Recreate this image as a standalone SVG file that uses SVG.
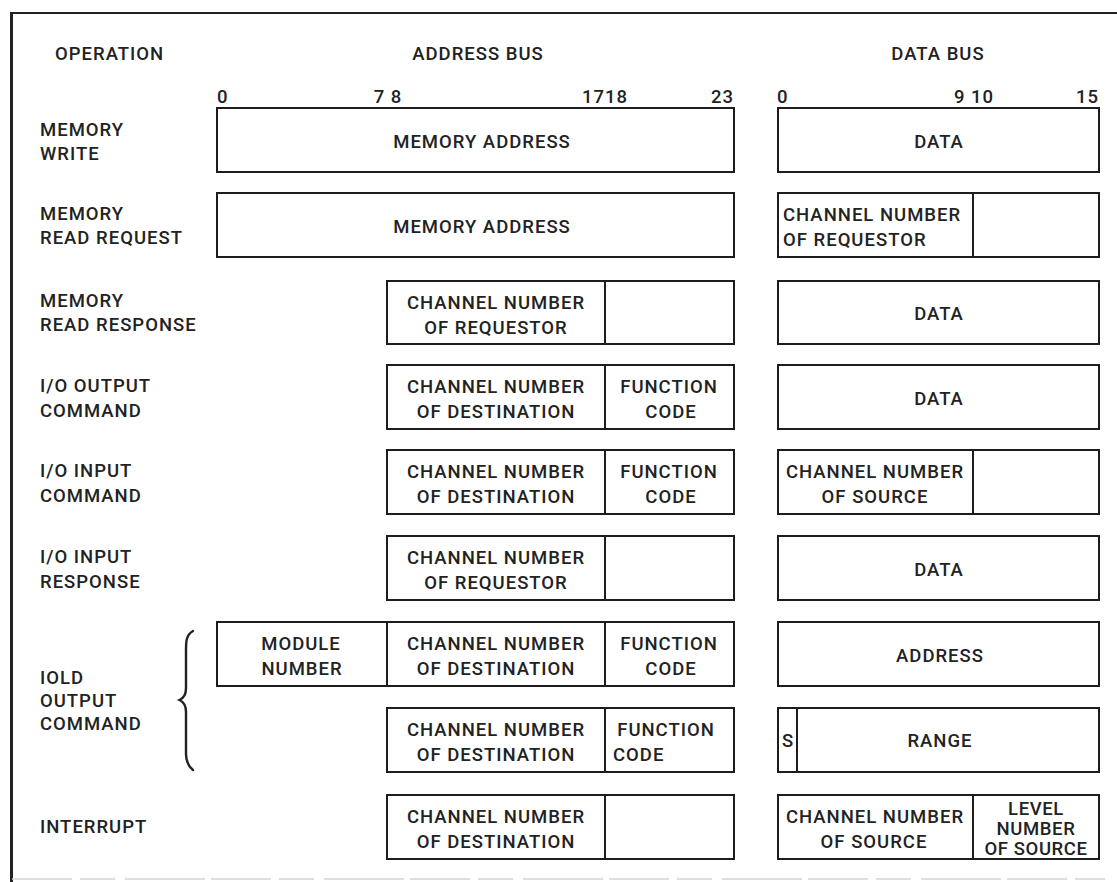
<svg xmlns="http://www.w3.org/2000/svg" width="1117" height="882" viewBox="0 0 1117 882">
  <style>
    .box { fill: none; stroke: #1d1d1d; stroke-width: 2; }
    .div { stroke: #1d1d1d; stroke-width: 2; }
    .frame { fill: none; stroke: #222; }
    .t { font-family: Roboto, "Liberation Sans", sans-serif; font-weight: 500; font-size: 18.5px; letter-spacing: 1px; fill: #222; }
    .c { text-anchor: middle; }
    .e { text-anchor: end; }
    .tight { letter-spacing: 0.6px; }
  </style>
  <rect width="1117" height="882" fill="#ffffff"/>

  <!-- outer frame: top rule, left rule and a faint bottom rule -->
  <line class="frame" x1="10" y1="13" x2="1117" y2="13" stroke-width="2"/>
  <line class="frame" x1="11.5" y1="12" x2="11.5" y2="882" stroke-width="3"/>
  <line x1="12" y1="879" x2="1105" y2="879" stroke="#d4d4d4" stroke-width="1.5" stroke-dasharray="60 8 35 10 80 6"/>

  <!-- column headings -->
  <g id="headings">
    <text class="t" x="55" y="60">OPERATION</text>
    <text class="t c" x="478" y="60">ADDRESS BUS</text>
    <text class="t c" x="938" y="60">DATA BUS</text>
  </g>

  <!-- bit positions -->
  <g id="bit-numbers">
    <text class="t" x="217" y="103">0</text>
    <text class="t c" x="388" y="103">7 8</text>
    <text class="t c" x="605" y="103">1718</text>
    <text class="t e" x="734" y="103">23</text>
    <text class="t" x="777" y="103">0</text>
    <text class="t c" x="974" y="103">9 10</text>
    <text class="t e" x="1099" y="103">15</text>
  </g>

  <!-- operation labels -->
  <g id="operations">
    <text class="t" x="40" y="136">MEMORY</text>
    <text class="t" x="40" y="160">WRITE</text>
    <text class="t" x="40" y="220">MEMORY</text>
    <text class="t" x="40" y="244">READ REQUEST</text>
    <text class="t" x="40" y="307">MEMORY</text>
    <text class="t" x="40" y="331">READ RESPONSE</text>
    <text class="t" x="40" y="392">I/O OUTPUT</text>
    <text class="t" x="40" y="417">COMMAND</text>
    <text class="t" x="40" y="477">I/O INPUT</text>
    <text class="t" x="40" y="502">COMMAND</text>
    <text class="t" x="40" y="563">I/O INPUT</text>
    <text class="t" x="40" y="588">RESPONSE</text>
    <text class="t" x="40" y="684">IOLD</text>
    <text class="t" x="40" y="707">OUTPUT</text>
    <text class="t" x="40" y="730">COMMAND</text>
    <text class="t" x="40" y="833">INTERRUPT</text>
  </g>

  <!-- brace grouping the two IOLD words -->
  <g id="iold-brace">
    <path d="M193 631 C186 635 186 642 186 650 L186 688 C186 694 184 698 179.5 700 C184 702 186 706 186 712 L186 754 C186 762 188 766 193 770"
          fill="none" stroke="#222" stroke-width="2.4" stroke-linecap="round"/>
  </g>

  <!-- MEMORY WRITE -->
  <g id="mem-write-addr">
    <rect class="box" x="217" y="108" width="517" height="64"/>
    <text class="t c" x="482" y="148">MEMORY ADDRESS</text>
  </g>
  <g id="mem-write-data">
    <rect class="box" x="778" y="108" width="321" height="64"/>
    <text class="t c" x="939" y="148">DATA</text>
  </g>

  <!-- MEMORY READ REQUEST -->
  <g id="mem-read-req-addr">
    <rect class="box" x="217" y="193" width="517" height="64"/>
    <text class="t c" x="482" y="233">MEMORY ADDRESS</text>
  </g>
  <g id="mem-read-req-data">
    <rect class="box" x="778" y="193" width="321" height="64"/>
    <line class="div" x1="973" y1="193" x2="973" y2="257"/>
    <text class="t" x="783" y="221">CHANNEL NUMBER</text>
    <text class="t" x="783" y="246">OF REQUESTOR</text>
  </g>

  <!-- MEMORY READ RESPONSE -->
  <g id="mem-read-resp-addr">
    <rect class="box" x="387" y="281" width="347" height="63"/>
    <line class="div" x1="605" y1="281" x2="605" y2="344"/>
    <text class="t c" x="496" y="309">CHANNEL NUMBER</text>
    <text class="t c" x="496" y="334">OF REQUESTOR</text>
  </g>
  <g id="mem-read-resp-data">
    <rect class="box" x="778" y="281" width="321" height="63"/>
    <text class="t c" x="939" y="320">DATA</text>
  </g>

  <!-- I/O OUTPUT COMMAND -->
  <g id="io-out-cmd-addr">
    <rect class="box" x="387" y="365" width="347" height="64"/>
    <line class="div" x1="605" y1="365" x2="605" y2="429"/>
    <text class="t c" x="496" y="393">CHANNEL NUMBER</text>
    <text class="t c" x="496" y="418">OF DESTINATION</text>
    <text class="t c" x="669" y="393">FUNCTION</text>
    <text class="t c" x="671" y="418">CODE</text>
  </g>
  <g id="io-out-cmd-data">
    <rect class="box" x="778" y="365" width="321" height="64"/>
    <text class="t c" x="939" y="405">DATA</text>
  </g>

  <!-- I/O INPUT COMMAND -->
  <g id="io-in-cmd-addr">
    <rect class="box" x="387" y="450" width="347" height="64"/>
    <line class="div" x1="605" y1="450" x2="605" y2="514"/>
    <text class="t c" x="496" y="478">CHANNEL NUMBER</text>
    <text class="t c" x="496" y="503">OF DESTINATION</text>
    <text class="t c" x="669" y="478">FUNCTION</text>
    <text class="t c" x="671" y="503">CODE</text>
  </g>
  <g id="io-in-cmd-data">
    <rect class="box" x="778" y="450" width="321" height="64"/>
    <line class="div" x1="973" y1="450" x2="973" y2="514"/>
    <text class="t c" x="875" y="478">CHANNEL NUMBER</text>
    <text class="t c" x="875" y="503">OF SOURCE</text>
  </g>

  <!-- I/O INPUT RESPONSE -->
  <g id="io-in-resp-addr">
    <rect class="box" x="387" y="536" width="347" height="64"/>
    <line class="div" x1="605" y1="536" x2="605" y2="600"/>
    <text class="t c" x="496" y="564">CHANNEL NUMBER</text>
    <text class="t c" x="496" y="589">OF REQUESTOR</text>
  </g>
  <g id="io-in-resp-data">
    <rect class="box" x="778" y="536" width="321" height="64"/>
    <text class="t c" x="939" y="576">DATA</text>
  </g>

  <!-- IOLD OUTPUT COMMAND, first word -->
  <g id="iold-1-addr">
    <rect class="box" x="217" y="622" width="517" height="64"/>
    <line class="div" x1="387" y1="622" x2="387" y2="686"/>
    <line class="div" x1="605" y1="622" x2="605" y2="686"/>
    <text class="t c" x="301" y="650">MODULE</text>
    <text class="t c" x="302" y="675">NUMBER</text>
    <text class="t c" x="496" y="650">CHANNEL NUMBER</text>
    <text class="t c" x="496" y="675">OF DESTINATION</text>
    <text class="t c" x="669" y="650">FUNCTION</text>
    <text class="t c" x="671" y="675">CODE</text>
  </g>
  <g id="iold-1-data">
    <rect class="box" x="778" y="622" width="321" height="64"/>
    <text class="t c" x="940" y="662">ADDRESS</text>
  </g>

  <!-- IOLD OUTPUT COMMAND, second word -->
  <g id="iold-2-addr">
    <rect class="box" x="387" y="708" width="347" height="64"/>
    <line class="div" x1="605" y1="708" x2="605" y2="772"/>
    <text class="t c" x="496" y="736">CHANNEL NUMBER</text>
    <text class="t c" x="496" y="761">OF DESTINATION</text>
    <text class="t c" x="666" y="736">FUNCTION</text>
    <text class="t" x="613" y="761">CODE</text>
  </g>
  <g id="iold-2-data">
    <rect class="box" x="778" y="708" width="321" height="64"/>
    <line class="div" x1="797" y1="708" x2="797" y2="772"/>
    <text class="t c" x="788" y="747">S</text>
    <text class="t c" x="940" y="747">RANGE</text>
  </g>

  <!-- INTERRUPT -->
  <g id="interrupt-addr">
    <rect class="box" x="387" y="795" width="347" height="64"/>
    <line class="div" x1="605" y1="795" x2="605" y2="859"/>
    <text class="t c" x="496" y="823">CHANNEL NUMBER</text>
    <text class="t c" x="496" y="848">OF DESTINATION</text>
  </g>
  <g id="interrupt-data">
    <rect class="box" x="778" y="795" width="321" height="64"/>
    <line class="div" x1="973" y1="795" x2="973" y2="859"/>
    <text class="t c" x="875" y="823">CHANNEL NUMBER</text>
    <text class="t c" x="874" y="848">OF SOURCE</text>
    <text class="t c tight" x="1036" y="815">LEVEL</text>
    <text class="t c tight" x="1036" y="835">NUMBER</text>
    <text class="t c tight" x="1036" y="855">OF SOURCE</text>
  </g>
</svg>
